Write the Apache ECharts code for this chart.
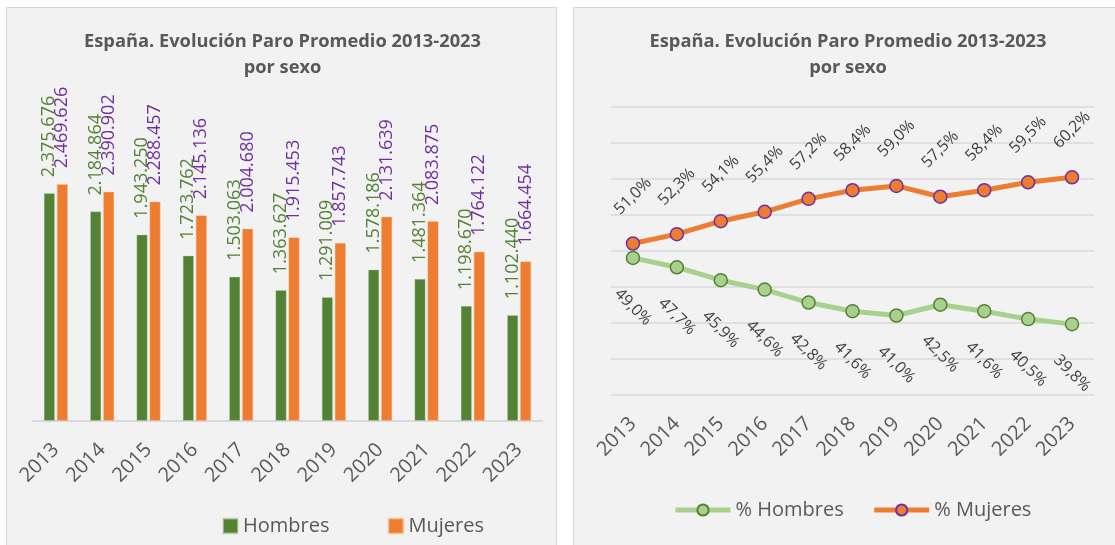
<!DOCTYPE html>
<html>
<head>
<meta charset="utf-8">
<script src="https://cdn.jsdelivr.net/npm/echarts@6/dist/echarts.min.js"></script>
<style>
  html, body { margin: 0; padding: 0; background: #ffffff; width: 1115px; height: 545px; overflow: hidden; }
  .panel { position: absolute; background: #f2f2f2; border: 1px solid #d9d9d9; box-sizing: border-box; }
  #p1 { left: 6px; top: 7px; width: 551px; height: 560px; }
  #p2 { left: 573px; top: 7px; width: 560px; height: 560px; }
  #chart { position: absolute; left: 0; top: 0; width: 1115px; height: 545px; }
</style>
</head>
<body>
<div class="panel" id="p1"></div>
<div class="panel" id="p2"></div>
<div id="chart"></div>
<script>
const years = ['2013','2014','2015','2016','2017','2018','2019','2020','2021','2022','2023'];
const hombres = [2375676, 2184864, 1943250, 1723762, 1503063, 1363627, 1291009, 1578186, 1481364, 1198670, 1102440];
const mujeres = [2469626, 2390902, 2288457, 2145136, 2004680, 1915453, 1857743, 2131639, 2083875, 1764122, 1664454];
const pctHombres = [49.0, 47.7, 45.9, 44.6, 42.8, 41.6, 41.0, 42.5, 41.6, 40.5, 39.8];
const pctMujeres = [51.0, 52.3, 54.1, 55.4, 57.2, 58.4, 59.0, 57.5, 58.4, 59.5, 60.2];
const titleText = 'España. Evolución Paro Promedio 2013-2023\npor sexo';

const FONT = 'Open Sans';
const GREY = '#595959';
const fmtThousands = v => String(v).replace(/\B(?=(\d{3})+(?!\d))/g, '.');
const fmtPct = v => v.toFixed(1).replace('.', ',') + '%';

const chart = echarts.init(document.getElementById('chart'), null, { renderer: 'canvas' });

const option = {
  backgroundColor: 'transparent',
  animation: false,
  textStyle: { fontFamily: FONT },
  title: [
    { text: titleText, left: 277.5, top: 24, textAlign: 'center',
      textStyle: { fontFamily: FONT, fontWeight: 'bold', fontSize: 18.3, color: GREY, lineHeight: 26 } },
    { text: titleText, left: 843, top: 24, textAlign: 'center',
      textStyle: { fontFamily: FONT, fontWeight: 'bold', fontSize: 18.3, color: GREY, lineHeight: 26 } }
  ],
  legend: [
    { data: ['Hombres', 'Mujeres'], left: 217, top: 511, icon: 'rect', itemWidth: 15, itemHeight: 15,
      itemGap: 58, textStyle: { fontFamily: FONT, fontSize: 20, color: GREY } },
    { data: ['% Hombres', '% Mujeres'], left: 668, top: 495, itemWidth: 55, itemHeight: 14,
      itemGap: 28, lineStyle: { width: 5 },
      textStyle: { fontFamily: FONT, fontSize: 20, color: GREY } }
  ],
  grid: [
    { left: 32.7, width: 509.6, top: 133.5, height: 287.2, containLabel: false },
    { left: 611, width: 483, top: 106.7, height: 288, containLabel: false }
  ],
  xAxis: [
    { type: 'category', gridIndex: 0, data: years, boundaryGap: true,
      axisLine: { show: true, lineStyle: { color: '#d9d9d9', width: 2 } },
      axisTick: { show: false },
      axisLabel: { interval: 0, rotate: 45, margin: 26, fontFamily: FONT, fontSize: 20, color: GREY } },
    { type: 'category', gridIndex: 1, data: years, boundaryGap: true,
      axisLine: { show: false }, axisTick: { show: false },
      axisLabel: { interval: 0, rotate: 45, margin: 26, fontFamily: FONT, fontSize: 20, color: GREY } }
  ],
  yAxis: [
    { type: 'value', gridIndex: 0, min: 0, max: 3000000, show: false, splitLine: { show: false } },
    { type: 'value', gridIndex: 1, min: 30, max: 70, interval: 5,
      axisLabel: { show: false }, axisLine: { show: false }, axisTick: { show: false },
      splitLine: { show: true, lineStyle: { color: '#d9d9d9', width: 1.5 } } }
  ],
  series: [
    { name: 'Hombres', type: 'bar', xAxisIndex: 0, yAxisIndex: 0, data: hombres,
      barWidth: 11, barGap: '18%',
      itemStyle: { color: '#548235', borderColor: 'rgba(200,220,190,0.6)', borderWidth: 0.6 },
      label: { show: true, position: 'top', rotate: 90, align: 'left', verticalAlign: 'middle', distance: 16,
        formatter: p => fmtThousands(p.value), fontFamily: FONT, fontSize: 18, color: '#548235' } },
    { name: 'Mujeres', type: 'bar', xAxisIndex: 0, yAxisIndex: 0, data: mujeres,
      barWidth: 11,
      itemStyle: { color: '#ED7D31', borderColor: 'rgba(250,200,170,0.6)', borderWidth: 0.6 },
      label: { show: true, position: 'top', rotate: 90, align: 'left', verticalAlign: 'middle', distance: 16,
        formatter: p => fmtThousands(p.value), fontFamily: FONT, fontSize: 18, color: '#7030A0' } },
    { name: '% Hombres', type: 'line', xAxisIndex: 1, yAxisIndex: 1, data: pctHombres,
      symbol: 'circle', symbolSize: 13,
      lineStyle: { color: '#A9D18E', width: 5 },
      itemStyle: { color: '#A9D18E', borderColor: '#548235', borderWidth: 1.5 },
      label: { show: true, position: 'bottom', rotate: -45, align: 'center', verticalAlign: 'middle', distance: 42,
        formatter: p => fmtPct(p.value), fontFamily: FONT, fontSize: 16, color: '#404040' } },
    { name: '% Mujeres', type: 'line', xAxisIndex: 1, yAxisIndex: 1, data: pctMujeres,
      symbol: 'circle', symbolSize: 13,
      lineStyle: { color: '#ED7D31', width: 5 },
      itemStyle: { color: '#ED7D31', borderColor: '#7030A0', borderWidth: 1.5 },
      label: { show: true, position: 'top', rotate: 45, align: 'center', verticalAlign: 'middle', distance: 40,
        formatter: p => fmtPct(p.value), fontFamily: FONT, fontSize: 16, color: '#404040' } }
  ]
};
chart.setOption(option);
</script>
</body>
</html>
